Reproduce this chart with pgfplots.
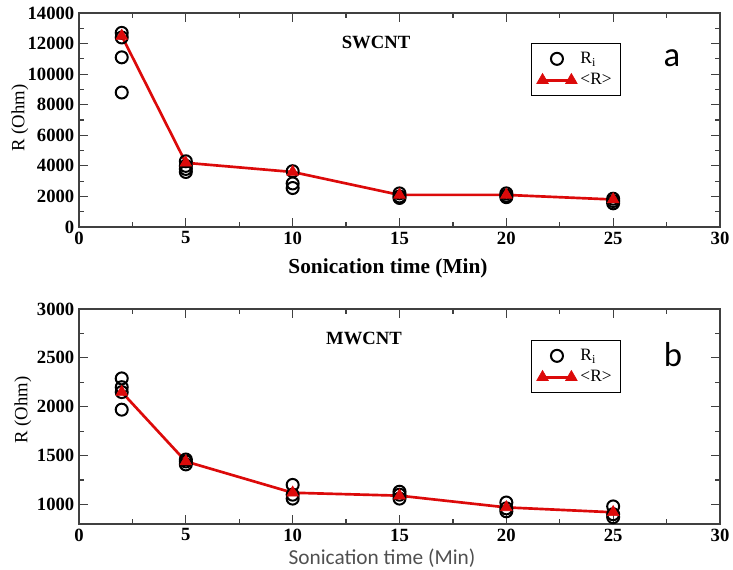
\documentclass[border=0pt]{standalone}
\usepackage{fontspec}
\setmainfont{Liberation Serif}
\newfontfamily\calibri{Carlito}
\usepackage{pgfplots}
\pgfplotsset{compat=1.18}
\definecolor{meanred}{HTML}{DC0A0A}
\definecolor{framegray}{HTML}{404040}
\definecolor{labelgray}{HTML}{505050}

\pgfplotsset{
  cntpanel/.style={
    scale only axis, width=480.75pt,
    xmin=0, xmax=30, xtick={0,5,...,30}, minor x tick num=1,
    axis line style={framegray, line width=1.1pt},
    tick style={framegray, line width=0.9pt},
    major tick length=6.5pt, minor tick length=3.5pt,
    tick align=inside,
    scaled y ticks=false,
    /pgf/number format/assume math mode=true,
    /pgf/number format/1000 sep={},
    ticklabel style={font=\fontsize{14}{16}\selectfont\bfseries},
    legend style={draw=black, line width=0.8pt, anchor=north west,
      font=\fontsize{13}{15}\selectfont, row sep=1pt, inner sep=4pt,
      nodes={inner sep=2.5pt}},
    legend cell align=left,
  },
  rimark/.style={only marks, mark=o, mark size=4.5pt,
    mark options={line width=1.5pt, black},
    legend image code/.code={\draw[##1] plot coordinates {(0.38cm,0cm)};}},
  meanline/.style={meanred, line width=2pt, mark=triangle*, mark size=5pt,
    mark options={meanred, line width=0.5pt},
    legend image code/.code={\draw[##1] plot coordinates {(0cm,0cm) (0.76cm,0cm)};}},
}

\pgfplotstableread{
x r
2 12700
2 12400
2 11100
2 8800
5 4300
5 4000
5 3800
5 3600
10 3650
10 2850
10 2550
15 2200
15 2000
15 1900
20 2200
20 2050
20 1950
25 1850
25 1700
25 1550
}\swcntri

\pgfplotstableread{
x r
2 12500
5 4200
10 3600
15 2100
20 2100
25 1800
}\swcntmean

\pgfplotstableread{
x r
2 2290
2 2200
2 2150
2 1970
5 1460
5 1440
5 1410
10 1200
10 1100
10 1060
15 1130
15 1100
15 1060
20 1020
20 960
20 930
25 980
25 900
25 870
}\mwcntri

\pgfplotstableread{
x r
2 2150
5 1440
10 1120
15 1090
20 970
25 920
}\mwcntmean

\begin{document}
\begin{tikzpicture}
\useasboundingbox (0pt,0pt) rectangle (549.75pt,-426.75pt);

% panel a
\begin{axis}[cntpanel, at={(59.25pt,-170.25pt)}, anchor=south west,
  height=160.5pt, ymin=0, ymax=14000, ytick={0,2000,...,14000},
  minor y tick num=1, legend style={at={(0.705,0.86)}}]
\addplot[rimark] table[x=x, y=r] {\swcntri};
\addplot[meanline] table[x=x, y=r] {\swcntmean};
\legend{R\textsubscript{i}, <R>}
\end{axis}

% panel b
\begin{axis}[cntpanel, at={(59.25pt,-393pt)}, anchor=south west,
  height=161.25pt, ymin=800, ymax=3000, ytick={1000,1500,...,3000},
  minor y tick num=1, legend style={at={(0.705,0.856)}}]
\addplot[rimark] table[x=x, y=r] {\mwcntri};
\addplot[meanline] table[x=x, y=r] {\mwcntmean};
\legend{R\textsubscript{i}, <R>}
\end{axis}

\node[font=\fontsize{14}{16}\selectfont\bfseries] at (282pt,-31.5pt) {SWCNT};
\node[font=\fontsize{14}{16}\selectfont\bfseries] at (273pt,-253.5pt) {MWCNT};
\node[font=\calibri\fontsize{26}{30}\selectfont] at (504pt,-43.5pt) {a};
\node[font=\calibri\fontsize{26}{30}\selectfont] at (504.75pt,-266.25pt) {b};

\node[font=\fontsize{16}{18}\selectfont\bfseries] at (291pt,-201pt) {Sonication time (Min)};
\node[font=\calibri\fontsize{16}{18}\selectfont, text=labelgray] at (286.5pt,-418.5pt) {Sonication time (Min)};
\node[rotate=90, font=\fontsize{14}{16}\selectfont] at (15pt,-88.5pt) {R (Ohm)};
\node[rotate=90, font=\fontsize{14}{16}\selectfont] at (17.25pt,-307.5pt) {R (Ohm)};
\end{tikzpicture}
\end{document}
